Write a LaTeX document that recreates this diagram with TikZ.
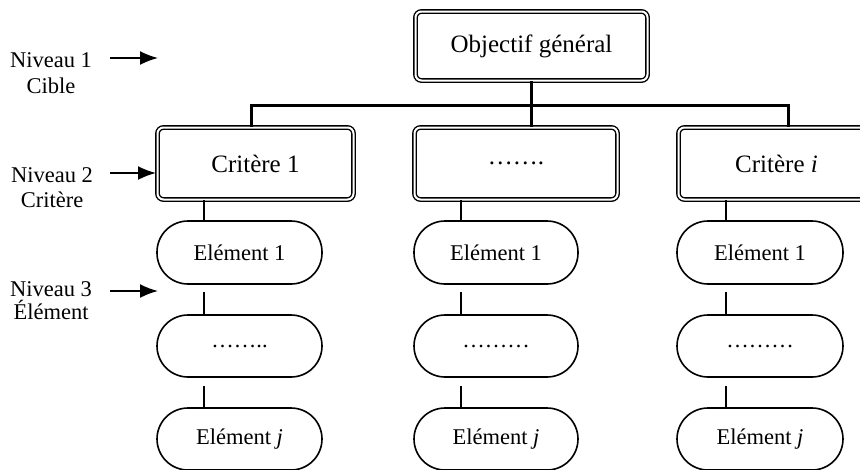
\documentclass[tikz,border=0pt]{standalone}
\usepackage{fontspec}
\setmainfont{Liberation Serif}
\usetikzlibrary{arrows.meta}
\tikzset{
  dbox/.style={draw, line width=1.4pt, double, double distance=2pt, rounded corners=6pt,
    inner sep=0pt, font=\fontsize{25}{30}\selectfont},
  oval/.style={draw, line width=1.6pt, rounded corners=31pt, inner sep=0pt,
    font=\fontsize{22.5}{27}\selectfont},
  bus/.style={line width=3pt},
  link/.style={line width=1.5pt},
  lvl/.style={anchor=base, inner sep=0pt, font=\fontsize{22.5}{27}\selectfont},
  pointer/.style={line width=1.8pt, -{Latex[length=18pt,width=14pt]}}
}
\begin{document}
\begin{tikzpicture}[x=1pt,y=-1pt]
\useasboundingbox (0,0) rectangle (860,469);
\clip (0,0) rectangle (860,469);
% level labels
\node[lvl] (n1) at (51,67) {Niveau 1};
\node[lvl] (l1) at (51,93) {Cible};
\node[lvl] (n2) at (52,182) {Niveau 2};
\node[lvl] (l2) at (52,207) {Critère};
\node[lvl] (n3) at (51,296) {Niveau 3};
\node[lvl] (l3) at (51,319) {Élément};
\coordinate (a1s) at (110,58);  \coordinate (a1e) at (158,58);
\coordinate (a2s) at (110,173); \coordinate (a2e) at (156,173);
\coordinate (a3s) at (110,291); \coordinate (a3e) at (158,291);
\draw[pointer] (a1s) -- (a1e);
\draw[pointer] (a2s) -- (a2e);
\draw[pointer] (a3s) -- (a3e);
% top goal
\node[dbox, minimum width=232pt, minimum height=69pt] (top) at (531.5,46) {Objectif général};
% criteria
\node[dbox, minimum width=196pt, minimum height=72pt] (crit1) at (255.5,163.5) {Critère 1};
\node[dbox, minimum width=203pt, minimum height=72pt] (critm) at (516,163.5) {…….};
\node[dbox, minimum width=196pt, minimum height=72pt] (criti) at (776.5,163.5) {Critère \textit{i}};
% bus
\coordinate (busL) at (251,105);
\coordinate (busR) at (788,105);
\draw[bus] (crit1.north -| busL) -- (busL) -- (busR) -- (criti.north -| busR);
\draw[bus] (top.south) -- (top.south |- critm.north);
% elements
\foreach \c/\x/\w/\lx/\dd in {ea/239.5/165/204/……..,eb/496/164/461/………,ec/760/166/726/………}{
  \node[oval, minimum width=\w pt, minimum height=63pt] (\c-1) at (\x,252.5) {Elément 1};
  \node[oval, minimum width=\w pt, minimum height=62pt] (\c-2) at (\x,346) {\dd};
  \node[oval, minimum width=\w pt, minimum height=62pt] (\c-3) at (\x,439) {Elément \textit{j}};
  \coordinate (\c-x) at (\lx,0);
}
\draw[link] (crit1.south -| ea-x) -- (ea-1.north -| ea-x);
\draw[link] (critm.south -| eb-x) -- (eb-1.north -| eb-x);
\draw[link] (criti.south -| ec-x) -- (ec-1.north -| ec-x);
\foreach \c in {ea,eb,ec}{
  \draw[link] ([yshift=-7pt]\c-1.south -| \c-x) -- (\c-2.north -| \c-x);
  \draw[link] ([yshift=-8pt]\c-2.south -| \c-x) -- (\c-3.north -| \c-x);
}
\end{tikzpicture}
\end{document}
